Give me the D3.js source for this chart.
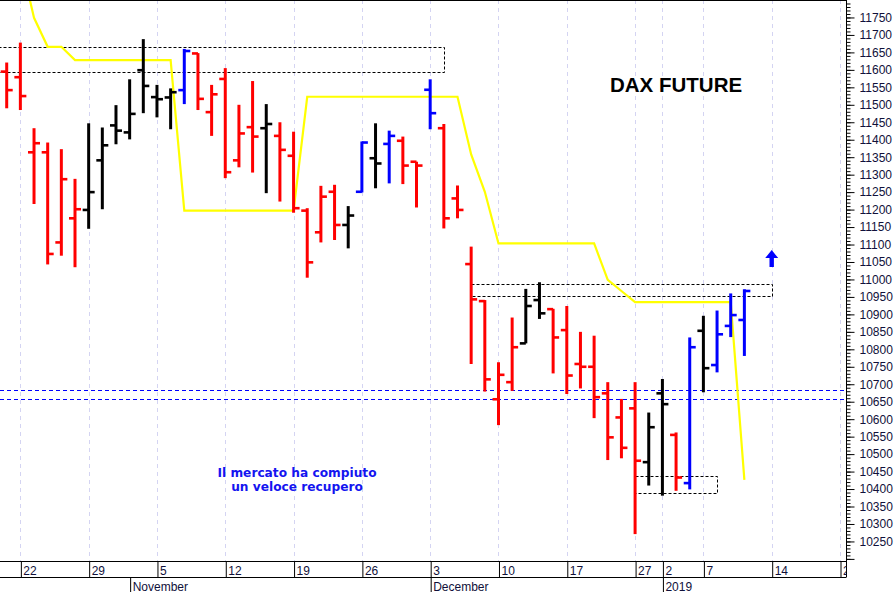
<!DOCTYPE html>
<html><head><meta charset="utf-8">
<script src="https://cdn.jsdelivr.net/npm/d3@7"></script>
<style>body{margin:0;background:#fff;} svg{display:block;}</style>
</head><body><svg id="c" width="896" height="592"></svg>
<script>
// ---------- DATA ----------
const dates = ["2018-10-18","2018-10-19","2018-10-22","2018-10-23","2018-10-24","2018-10-25","2018-10-26",
"2018-10-29","2018-10-30","2018-10-31","2018-11-01","2018-11-02","2018-11-05","2018-11-06","2018-11-07",
"2018-11-08","2018-11-09","2018-11-12","2018-11-13","2018-11-14","2018-11-15","2018-11-16","2018-11-19",
"2018-11-20","2018-11-21","2018-11-22","2018-11-23","2018-11-26","2018-11-27","2018-11-28","2018-11-29",
"2018-11-30","2018-12-03","2018-12-04","2018-12-05","2018-12-06","2018-12-07","2018-12-10","2018-12-11",
"2018-12-12","2018-12-13","2018-12-14","2018-12-17","2018-12-18","2018-12-19","2018-12-20","2018-12-21",
"2018-12-27","2018-12-28","2019-01-02","2019-01-03","2019-01-04","2019-01-07","2019-01-08","2019-01-09",
"2019-01-10","2019-01-11","2019-01-14","2019-01-15","2019-01-16","2019-01-17","2019-01-18","2019-01-21"];

const barDates = ["2018-10-19","2018-10-22","2018-10-23","2018-10-24","2018-10-25","2018-10-26",
"2018-10-29","2018-10-30","2018-10-31","2018-11-01","2018-11-02","2018-11-05","2018-11-06","2018-11-07",
"2018-11-08","2018-11-09","2018-11-12","2018-11-13","2018-11-14","2018-11-15","2018-11-16","2018-11-19",
"2018-11-20","2018-11-21","2018-11-22","2018-11-23","2018-11-26","2018-11-27","2018-11-28","2018-11-29",
"2018-11-30","2018-12-03","2018-12-04","2018-12-05","2018-12-06","2018-12-07","2018-12-10","2018-12-11",
"2018-12-12","2018-12-13","2018-12-14","2018-12-17","2018-12-18","2018-12-19","2018-12-20","2018-12-21",
"2018-12-27","2018-12-28","2019-01-02","2019-01-03","2019-01-04","2019-01-07","2019-01-08","2019-01-09",
"2019-01-10"];

const openV  = [11595,11579,11364,11364,11106,11175,11199,11341,11441,11421,11599,11522,11521,11542,11647,11479,11574,11341,11436,11433,11411,11354,11197,11135,11251,11156,11251,11347,11388,11397,11337,11543,11433,11232,11044,10938,10657,10706,10817,10941,10915,10855,10758,10750,10674,10605,10631,10477,10674,10555,10417,10853,10755,10867,10884];
const highV  = [11621,11678,11433,11392,11373,11288,11447,11435,11499,11573,11688,11557,11547,11660,11648,11557,11605,11500,11568,11502,11450,11423,11204,11268,11271,11210,11395,11447,11426,11409,11337,11573,11445,11269,11094,10941,10763,10891,10973,10992,10916,10924,10850,10839,10706,10658,10706,10619,10715,10562,10834,10896,10911,10960,10972];
const lowV   = [11490,11485,11216,11043,11068,11035,11145,11201,11387,11401,11476,11464,11430,11502,11485,11411,11290,11321,11306,11247,11223,11191,11005,11106,11113,11089,11249,11261,11275,11273,11206,11430,11146,11175,10758,10679,10583,10681,10817,10887,10731,10672,10688,10603,10483,10488,10271,10410,10381,10395,10399,10677,10734,10835,10781];
const closeV = [11542,11525,11390,11073,11287,11201,11250,11384,11426,11474,11554,11516,11536,11654,11517,11530,11307,11418,11409,11445,11371,11204,11049,11237,11156,11183,11392,11332,11411,11326,11326,11476,11175,11199,10943,10714,10727,10806,10924,10903,10834,10725,10750,10663,10548,10518,10481,10577,10643,10433,10806,10746,10843,10898,10967];
const barColor = ["r","r","r","r","r","r","k","k","k","k","k","k","k","b","r","r","r","r","r","k","r","r","r","r","r","k","b","k","b","r","r","b","r","r","r","r","r","r","k","k","r","r","r","r","r","r","r","k","k","r","b","k","b","b","b"];

const stopLine = [11990,11917,11749,11666,11666,11628,11628,11628,11628,11628,11628,11628,11628,11197,11197,11197,11197,11197,11197,11197,11197,11197,11523,11523,11523,11523,11523,11523,11523,11523,11523,11523,11523,11523,11358,11251,11103,11103,11103,11103,11103,11103,11103,11103,10999,10967,10935,10935,10935,10935,10935,10935,10935,10935,10426];

const dayTickDates  = ["2018-10-22","2018-10-29","2018-11-05","2018-11-12","2018-11-19","2018-11-26","2018-12-03","2018-12-10","2018-12-17","2018-12-27","2019-01-02","2019-01-07","2019-01-14","2019-01-21"];
const dayTickLabels = ["22","29","5","12","19","26","3","10","17","27","2","7","14","2"];
const monthTickDates  = ["2018-11-01","2018-12-03","2019-01-02"];
const monthTickLabels = ["November","December","2019"];
const yTicks = [10250,10300,10350,10400,10450,10500,10550,10600,10650,10700,10750,10800,10850,10900,10950,11000,11050,11100,11150,11200,11250,11300,11350,11400,11450,11500,11550,11600,11650,11700,11750];

const boxStart  = ["2018-10-18","2018-12-06","2018-12-27"];
const boxEnd    = ["2018-12-04","2019-01-14","2019-01-08"];
const boxTop    = [11666,10987,10436];
const boxBottom = [11593,10953,10388];
const supportLevels = [10684,10657];

const titleText = "DAX FUTURE";
const noteLines = ["Il mercato ha compiuto","un veloce recupero"];
const arrowDate = "2019-01-14", arrowLevel = 11084;

// ---------- LAYOUT ----------
const W = 896, H = 592;
const plotR = 846.5, plotB = 561, rowB = 577;
const colors = {r:"#ff0000", k:"#000000", b:"#0000ff"};
const axisTextColor = "#10103a";

const svg = d3.select("#c");
const x = d3.scalePoint().domain(dates).range([-6.96, 840]);
const y = d3.scaleLinear().domain([10194, 11800]).range([plotB, 0]);

svg.append("defs").append("clipPath").attr("id","clip")
  .append("rect").attr("x",0).attr("y",0).attr("width",plotR).attr("height",plotB);

// vertical grid
svg.append("g").selectAll("line").data(dayTickDates).join("line")
  .attr("x1",d=>Math.round(x(d))+0.5).attr("x2",d=>Math.round(x(d))+0.5)
  .attr("y1",0).attr("y2",plotB)
  .attr("stroke","#d4d4f2").attr("stroke-width",1).attr("stroke-dasharray","4,4");

const plot = svg.append("g").attr("clip-path","url(#clip)");

// support levels (blue dashed)
plot.selectAll("line.sup").data(supportLevels).join("line").attr("class","sup")
  .attr("x1",0).attr("x2",plotR)
  .attr("y1",d=>Math.round(y(d))+0.5).attr("y2",d=>Math.round(y(d))+0.5)
  .attr("stroke","#0000ff").attr("stroke-width",1).attr("stroke-dasharray","4,3");

// dashed boxes
plot.selectAll("rect.box").data(boxStart.map((s,i)=>i)).join("rect").attr("class","box")
  .attr("x",i=>Math.round(x(boxStart[i]))+0.5)
  .attr("y",i=>Math.round(y(boxTop[i]))+0.5)
  .attr("width",i=>Math.round(x(boxEnd[i]))-Math.round(x(boxStart[i])))
  .attr("height",i=>Math.round(y(boxBottom[i]))-Math.round(y(boxTop[i])))
  .attr("fill","none").attr("stroke","#000").attr("stroke-width",1).attr("stroke-dasharray","3,2");

// stop line (yellow)
const line = d3.line().x((d,i)=>x(barDates[i])).y(d=>y(d));
plot.append("path").datum(stopLine).attr("d",line)
  .attr("fill","none").attr("stroke","#ffff00").attr("stroke-width",2.2).attr("stroke-linejoin","miter");

// OHLC bars
const bars = plot.selectAll("g.bar").data(barDates.map((d,i)=>i)).join("g").attr("class","bar")
  .attr("stroke",i=>colors[barColor[i]]);
bars.append("line").attr("x1",i=>x(barDates[i])).attr("x2",i=>x(barDates[i]))
  .attr("y1",i=>y(highV[i])).attr("y2",i=>y(lowV[i])).attr("stroke-width",3);
bars.append("line").attr("x1",i=>x(barDates[i])-6).attr("x2",i=>x(barDates[i]))
  .attr("y1",i=>y(openV[i])).attr("y2",i=>y(openV[i])).attr("stroke-width",2.6);
bars.append("line").attr("x1",i=>x(barDates[i])).attr("x2",i=>x(barDates[i])+6)
  .attr("y1",i=>y(closeV[i])).attr("y2",i=>y(closeV[i])).attr("stroke-width",2.6);

// arrow
const ax = x(arrowDate), ay = y(arrowLevel);
svg.append("path")
  .attr("d",`M${ax},${ay} L${ax+6.5},${ay+8} L${ax+2.2},${ay+8} L${ax+2.2},${ay+17} L${ax-2.2},${ay+17} L${ax-2.2},${ay+8} L${ax-6.5},${ay+8} Z`)
  .attr("fill","#0000ff");

// title
svg.append("text").attr("x",610).attr("y",91.5).text(titleText)
  .attr("font-family","'Liberation Sans', Arial, sans-serif").attr("font-weight","bold")
  .attr("font-size","20.5px").attr("fill","#000");

// note
svg.append("g").selectAll("text").data(noteLines).join("text")
  .attr("x",297).attr("y",(d,i)=>477+i*14).attr("text-anchor","middle").text(d=>d)
  .attr("font-family","'DejaVu Sans', Verdana, sans-serif").attr("font-weight","bold")
  .attr("font-size","12.2px").attr("fill","#1414f0");

// frame
svg.append("line").attr("x1",0).attr("x2",plotR).attr("y1",0.5).attr("y2",0.5).attr("stroke","#000");
svg.append("line").attr("x1",plotR).attr("x2",plotR).attr("y1",0).attr("y2",rowB).attr("stroke","#000");
svg.append("line").attr("x1",0).attr("x2",plotR).attr("y1",plotB+0.5).attr("y2",plotB+0.5).attr("stroke","#000");
svg.append("line").attr("x1",0).attr("x2",plotR).attr("y1",rowB+0.5).attr("y2",rowB+0.5).attr("stroke","#000");

// y axis: minor ticks and labelled ticks
const fontAxis = "'Liberation Sans', Arial, sans-serif";
const yMinor = d3.axisRight(y).tickValues(d3.range(10200, 11800, 10)).tickSize(4).tickSizeOuter(0).tickFormat("");
const gMinor = svg.append("g").attr("transform",`translate(${plotR},0)`).call(yMinor);
gMinor.select(".domain").remove();
gMinor.selectAll("line").attr("stroke","#000");
const yMajor = d3.axisRight(y).tickValues([10200].concat(yTicks)).tickSize(8).tickPadding(5).tickSizeOuter(0)
  .tickFormat(d=>yTicks.includes(d)?d:"");
const gMajor = svg.append("g").attr("transform",`translate(${plotR},0)`).call(yMajor);
gMajor.select(".domain").remove();
gMajor.selectAll("line").attr("stroke","#000");
gMajor.selectAll("text").attr("font-family",fontAxis).attr("font-size","12px").attr("fill",axisTextColor);

// x axis: day row
const clipX = svg.append("defs").append("clipPath").attr("id","clipx")
  .append("rect").attr("x",0).attr("y",plotB).attr("width",plotR).attr("height",H-plotB);
const xDay = d3.axisBottom(x).tickValues(dayTickDates).tickSize(rowB-plotB).tickSizeOuter(0)
  .tickFormat((d,i)=>dayTickLabels[i]);
const gDay = svg.append("g").attr("clip-path","url(#clipx)").append("g")
  .attr("transform",`translate(0,${plotB})`).call(xDay);
gDay.select(".domain").remove();
gDay.selectAll(".tick line").attr("stroke","#000").attr("transform","translate(0.5,0)");
gDay.selectAll(".tick text").attr("x",2.5).attr("y",13.5).attr("dy",0).attr("text-anchor","start")
  .attr("font-family",fontAxis).attr("font-size","12px").attr("fill",axisTextColor);

// x axis: month row
const xMonth = d3.axisBottom(x).tickValues(monthTickDates).tickSize(H-rowB).tickSizeOuter(0)
  .tickFormat((d,i)=>monthTickLabels[i]);
const gMonth = svg.append("g").attr("transform",`translate(0,${rowB})`).call(xMonth);
gMonth.select(".domain").remove();
gMonth.selectAll(".tick line").attr("stroke","#000").attr("transform","translate(0.5,0)");
gMonth.selectAll(".tick text").attr("x",2.5).attr("y",13.5).attr("dy",0).attr("text-anchor","start")
  .attr("font-family",fontAxis).attr("font-size","12px").attr("fill",axisTextColor);
</script>
</body></html>
